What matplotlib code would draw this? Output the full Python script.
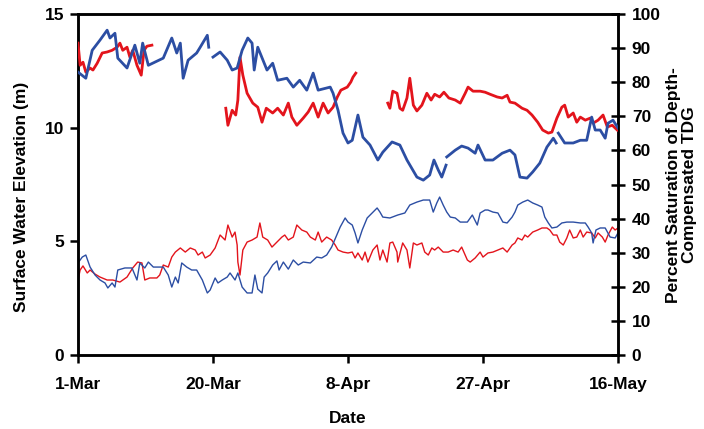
import matplotlib
matplotlib.use('Agg')
import matplotlib.pyplot as plt

plt.rcParams['font.family'] = ['Liberation Sans', 'DejaVu Sans']
plt.rcParams['font.weight'] = 'bold'

# days since 1-Mar
date_ticks = [0, 19, 38, 57, 76]
date_labels = ['1-Mar', '20-Mar', '8-Apr', '27-Apr', '16-May']

# percent saturation of depth-compensated TDG (right axis)
tdg_blue_days = [0, 1.1, 2.0, 3.1, 4.1, 4.5, 5.2, 5.6, 6.9, 8.0, 8.7, 9.1, 9.9, 10.8, 12.0, 13.2,
                 13.9, 14.4, 14.8, 15.5, 16.7, 17.2, 18.2, 18.4, 18.6,
                 19.0, 20.0, 21.0, 21.7, 22.4, 23.1, 23.9, 24.5, 24.8, 25.3, 26.6, 27.4, 28.1,
                 29.4, 30.3, 31.2, 32.2, 33.1, 33.8, 35.5, 35.9, 36.6, 37.3, 38.0, 38.6, 39.4,
                 40.1, 41.1, 42.2, 42.9, 44.2, 45.3, 46.3, 47.7, 48.6, 49.5, 50.1, 50.7, 51.2,
                 51.8, 51.85,
                 51.9, 53.1, 54.0, 54.9, 55.9, 56.3, 57.3, 58.4, 59.7, 60.8, 61.5, 62.2, 63.2,
                 64.0, 65.0, 66.0, 66.9, 67.3, 67.45,
                 67.6, 68.5, 69.7, 70.7, 71.6, 72.3, 72.8, 73.5, 74.2, 74.6, 75.3, 76.0]
tdg_blue = [83.0, 81.2, 89.4, 92.4, 95.3, 93.0, 94.4, 87.1, 84.2, 90.9, 85.6, 91.5, 85.0, 85.9,
            87.1, 93.0, 88.6, 91.5, 81.2, 86.5, 88.6, 90.3, 93.8, 90.3, None,
            87.4, 88.9, 86.5, 83.6, 84.2, 89.4, 93.0, 91.5, 83.6, 90.3, 83.6, 85.6, 80.6,
            81.2, 78.6, 80.6, 77.7, 82.7, 77.7, 78.6, 76.8, 71.8, 65.1, 62.2, 63.0, 70.4,
            63.9, 61.6, 57.2, 59.5, 62.5, 61.6, 57.2, 52.2, 51.3, 52.8, 57.2, 54.3, 52.2,
            55.7, None,
            58.1, 60.1, 61.3, 60.7, 59.2, 61.6, 57.2, 57.2, 59.2, 60.1, 58.7, 52.2, 51.9,
            53.7, 56.3, 61.0, 63.6, 62.2, None,
            65.1, 62.2, 62.2, 63.0, 63.0, 69.8, 66.0, 66.0, 63.6, 68.0, 68.9, 66.6]

tdg_red_days = [0, 0.3, 0.7, 1.1, 1.7, 2.1, 2.7, 3.4, 4.1, 4.8, 5.5, 5.9, 6.3, 6.9, 7.3, 7.7,
                8.3, 8.9, 9.3, 9.7, 10.4, 10.5,
                20.8, 21.1, 21.7, 22.2, 22.5, 22.8, 23.2, 23.8, 24.6, 25.3, 25.9, 26.5, 27.4,
                28.1, 28.9, 29.6, 30.1, 30.8, 31.7, 32.4, 33.1, 33.8, 34.5, 35.2, 35.9, 36.5,
                37.0, 37.9, 38.4, 38.7, 39.1, 39.2,
                43.6, 43.9, 44.3, 44.9, 45.3, 45.7, 46.3, 46.7, 47.2, 47.7, 48.4, 49.1, 49.7,
                50.2, 50.9, 51.5, 52.2, 53.1, 53.8, 54.5, 54.9, 55.6, 56.6, 57.3, 58.0, 59.0,
                59.7, 60.4, 60.8, 61.5, 62.5, 63.2, 63.9, 64.7, 65.4, 66.2, 66.7, 67.4, 68.1,
                68.5, 69.0, 69.7, 70.2, 70.7, 71.4, 72.1, 72.5, 73.2, 73.9, 74.5, 75.2, 75.9]
tdg_red = [91.5, 85.0, 85.9, 83.0, 84.2, 83.6, 85.6, 88.6, 88.9, 89.4, 90.3, 91.5, 89.4, 90.3,
           87.4, 89.4, 85.0, 82.1, 89.4, 90.6, 90.9, None,
           72.4, 67.4, 71.8, 70.4, 74.8, 87.4, 82.1, 76.8, 73.9, 72.7, 68.3, 72.4, 71.0,
           72.4, 70.4, 73.9, 69.8, 67.4, 69.5, 71.3, 73.9, 69.8, 73.9, 71.0, 72.7, 75.7,
           77.7, 78.6, 80.1, 81.5, 82.7, None,
           73.9, 72.4, 77.4, 76.8, 72.4, 71.8, 75.4, 81.2, 73.3, 71.6, 73.3, 76.8, 74.8,
           76.5, 75.7, 77.1, 75.4, 74.8, 73.9, 76.8, 78.6, 77.4, 77.4, 77.1, 76.5, 75.7,
           75.4, 76.2, 74.2, 73.9, 72.4, 71.8, 70.4, 68.3, 66.0, 65.1, 65.4, 69.5, 72.7,
           73.3, 69.8, 71.0, 68.3, 69.8, 68.9, 69.5, 68.0, 68.9, 70.4, 66.9, 67.4, 66.0]

# surface water elevation, m (left axis)
elev_blue_days = [0, 0.6, 1.1, 1.7, 2.4, 3.1, 3.8, 4.2, 4.8, 5.2, 5.6, 6.6, 7.6, 8.3, 8.7, 9.4,
                  9.9, 10.6, 11.3, 12.0, 12.7, 13.2, 13.7, 14.1, 14.6, 15.3, 16.0, 16.7, 17.5,
                  18.2, 18.6, 19.3, 19.7, 20.3, 21.0, 21.4, 22.1, 22.5, 23.1, 23.8, 24.5, 24.9,
                  25.3, 25.9, 26.2, 26.7, 27.4, 28.0, 28.3, 28.9, 29.6, 30.3, 31.0, 31.7, 32.7,
                  33.6, 34.3, 35.0, 35.7, 36.3, 36.9, 37.6, 38.0, 38.6, 39.0, 39.4, 40.0, 40.7,
                  41.4, 42.1, 42.5, 42.9, 43.9, 45.0, 46.0, 46.7, 47.7, 48.6, 49.5, 50.0, 50.5,
                  50.9, 51.4, 51.9, 52.4, 53.1, 53.8, 54.8, 55.5, 56.2, 56.6, 57.3, 57.7, 58.4,
                  59.1, 59.8, 60.4, 61.1, 61.5, 61.9, 62.6, 63.3, 64.0, 64.7, 65.3, 65.7, 66.2,
                  66.7, 67.4, 68.1, 68.8, 69.7, 70.7, 71.4, 71.8, 72.3, 72.5, 72.9, 73.5, 74.2,
                  74.9, 75.6, 76.0]
elev_blue = [4.05, 4.31, 4.40, 3.87, 3.52, 3.30, 3.17, 2.95, 3.17, 2.99, 3.74, 3.83, 3.83, 3.30,
             4.05, 3.83, 4.09, 3.87, 3.87, 3.87, 3.52, 2.99, 3.43, 3.17, 4.05, 3.87, 3.74, 3.74,
             3.30, 2.73, 2.86, 3.39, 3.17, 3.30, 3.43, 3.61, 3.30, 3.61, 2.99, 2.73, 2.73, 3.52,
             2.90, 2.73, 3.43, 3.61, 3.96, 4.14, 3.74, 4.09, 3.78, 4.18, 3.96, 4.09, 4.05,
             4.31, 4.27, 4.40, 4.75, 5.19, 5.63, 6.03, 5.85, 5.72, 5.37, 4.93, 5.50, 6.03,
             6.25, 6.47, 6.29, 6.07, 6.03, 6.16, 6.25, 6.60, 6.73, 6.82, 6.82, 6.29, 6.69,
             6.95, 6.60, 6.29, 6.07, 6.03, 5.85, 5.85, 6.16, 5.72, 6.25, 6.38, 6.38, 6.29,
             6.25, 5.85, 5.81, 6.07, 6.29, 6.60, 6.73, 6.82, 6.69, 6.60, 6.51, 6.07, 5.81,
             5.59, 5.63, 5.81, 5.85, 5.85, 5.81, 5.81, 5.63, 5.37, 4.93, 5.50, 5.59, 5.59,
             5.19, 5.15, 5.37]

elev_red_days = [0, 0.3, 0.7, 1.3, 1.7, 2.4, 3.1, 4.1, 4.9, 5.9, 6.9, 7.7, 8.4, 9.0, 9.4, 10.1,
                 11.1, 11.5, 12.0, 12.7, 13.2, 13.7, 14.4, 15.1, 15.8, 16.5, 16.9, 17.5, 17.9,
                 18.6, 19.3, 20.0, 20.7, 21.1, 21.7, 22.1, 22.4, 22.5, 22.8, 23.2, 23.8, 24.5,
                 25.2, 25.6, 26.0, 26.7, 27.3, 28.0, 28.7, 29.1, 29.6, 30.3, 30.8, 31.5, 32.2,
                 32.7, 33.4, 33.8, 34.3, 35.0, 35.7, 36.2, 36.6, 37.3, 38.0, 38.6, 39.0, 39.4,
                 40.0, 40.4, 40.8, 41.5, 42.1, 42.5, 42.9, 43.5, 43.9, 44.3, 44.9, 45.0, 45.7,
                 46.3, 46.7, 47.2, 47.7, 48.4, 48.8, 49.3, 49.8, 50.2, 50.7, 51.4, 52.1, 52.8,
                 53.5, 54.0, 54.8, 55.2, 55.9, 56.6, 57.0, 57.7, 58.4, 59.1, 59.8, 60.4, 61.1,
                 61.5, 61.9, 62.5, 62.9, 63.3, 64.0, 64.7, 65.3, 66.0, 66.4, 66.9, 67.4, 67.8,
                 68.3, 68.8, 69.2, 69.7, 70.2, 70.7, 71.1, 71.6, 72.3, 72.8, 73.2, 73.8, 74.2,
                 74.6, 75.2, 75.6, 76.0]
elev_red = [3.30, 3.74, 3.92, 3.61, 3.74, 3.56, 3.43, 3.30, 3.30, 3.21, 3.43, 3.83, 4.09, 4.05,
            3.30, 3.39, 3.39, 3.52, 3.96, 3.87, 4.31, 4.53, 4.71, 4.53, 4.71, 4.62, 4.40, 4.53,
            4.27, 4.40, 4.71, 5.28, 5.06, 5.72, 5.19, 5.41, 4.84, 4.09, 3.52, 4.62, 4.97, 5.06,
            5.19, 5.81, 5.19, 5.06, 4.75, 4.97, 5.19, 5.28, 5.06, 5.19, 5.72, 5.50, 5.41,
            5.19, 5.06, 5.41, 4.97, 5.19, 5.06, 4.84, 4.62, 4.53, 4.49, 4.53, 4.27, 4.49,
            4.18, 4.53, 4.09, 4.62, 4.84, 4.18, 4.62, 4.09, 4.93, 4.97, 4.53, 4.09, 4.93,
            4.62, 3.83, 4.93, 4.84, 4.93, 4.53, 4.40, 4.71, 4.62, 4.75, 4.53, 4.53, 4.62,
            4.53, 4.75, 4.18, 4.09, 4.27, 4.53, 4.31, 4.49, 4.53, 4.62, 4.71, 4.53, 4.84,
            4.93, 5.15, 5.06, 5.28, 5.19, 5.41, 5.50, 5.59, 5.59, 5.50, 5.28, 5.28, 4.97,
            4.84, 5.15, 5.50, 5.15, 5.19, 5.50, 5.19, 5.41, 5.37, 5.15, 5.37, 5.19, 4.97,
            5.28, 5.63, 5.50, 5.59]

blue = '#2c4ea3'
red = '#e3141c'
fs = 12.5

fig = plt.figure(figsize=(7.04, 4.29), dpi=100)
ax = fig.add_axes([0.1108, 0.1725, 0.767, 0.7945])
ax2 = ax.twinx()

ax.plot(elev_red_days, elev_red, color=red, linewidth=1.0, zorder=2)
ax.plot(elev_blue_days, elev_blue, color=blue, linewidth=1.0, zorder=2)
ax2.plot(tdg_red_days, tdg_red, color=red, linewidth=2.0, zorder=3)
ax2.plot(tdg_blue_days, tdg_blue, color=blue, linewidth=2.0, zorder=3)

ax.set_xlim(0, 76)
ax.set_ylim(0, 15)
ax2.set_ylim(0, 100)
ax.set_yticks([0, 5, 10, 15])
ax2.set_yticks(range(0, 101, 10))
ax.set_xticks(date_ticks)
ax.set_xticklabels(date_labels)

for a in (ax, ax2):
    for s in a.spines.values():
        s.set_linewidth(1.8)
ax.tick_params(axis='y', direction='out', length=6, width=1.8, labelsize=fs, pad=4)
ax.tick_params(axis='x', direction='out', length=6, width=1.8, labelsize=fs, pad=10)
ax2.tick_params(axis='y', direction='inout', length=10, width=1.8, labelsize=fs, pad=5)

for lab in ax.get_xticklabels() + ax.get_yticklabels() + ax2.get_yticklabels():
    lab.set_fontweight('bold')

ax.set_xlabel('Date', fontsize=fs, fontweight='bold')
ax.xaxis.set_label_coords(0.5, -0.165)
ax.set_ylabel('Surface Water Elevation (m)', fontsize=fs, fontweight='bold')
ax.yaxis.set_label_coords(-0.091, 0.465)
ax2.set_ylabel('Percent Saturation of Depth-\nCompensated TDG', fontsize=fs,
               fontweight='bold', linespacing=1.1)
ax2.yaxis.set_label_coords(1.089, 0.5)

plt.savefig('out.png', dpi=100)
